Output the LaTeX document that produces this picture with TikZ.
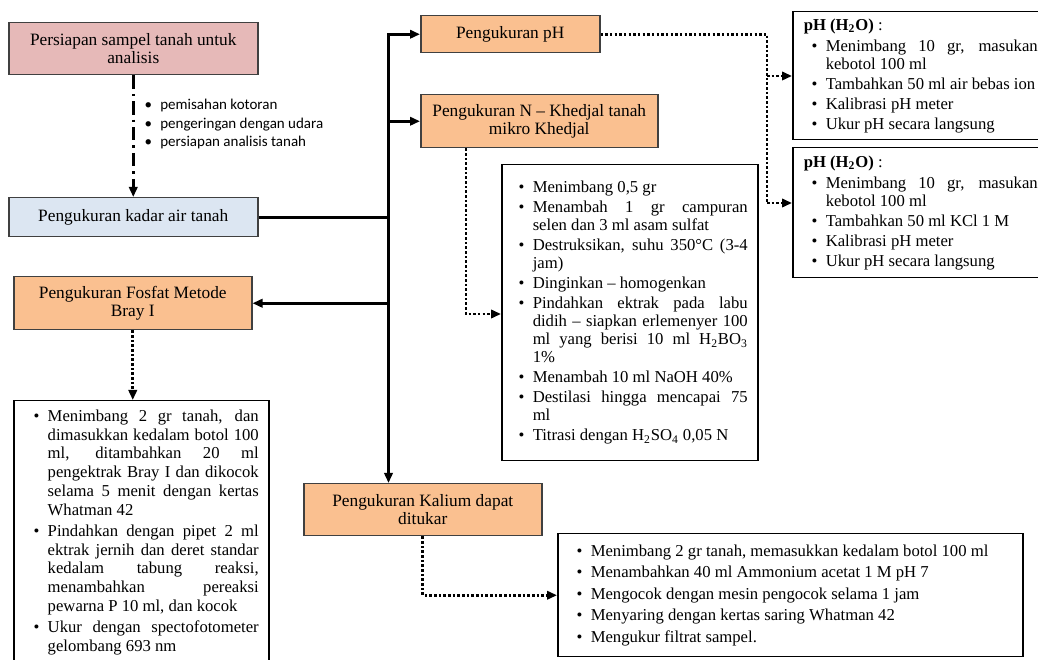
\documentclass[tikz,border=0pt]{standalone}
\usepackage{fontspec}
\setmainfont{Liberation Serif}
\newfontfamily\calibrifont{Carlito}
\usepackage{enumitem}
\usetikzlibrary{arrows.meta,positioning}

\newdimen\pxu \pxu=0.6pt
\hyphenpenalty=10000
\exhyphenpenalty=10000

\definecolor{prepred}{HTML}{E6B9B8}
\definecolor{waterblue}{HTML}{DCE6F2}
\definecolor{measureorange}{HTML}{FAC090}
\definecolor{boxline}{HTML}{404040}

\setlist[itemize]{label=\textbullet,topsep=0pt,partopsep=0pt,parsep=0pt,itemsep=1.2pt,labelsep=5pt}

\tikzset{
        stepbox/.style={
            draw=boxline, line width=0.9pt, anchor=north west, inner sep=0pt,
            align=center, font=\fontsize{10.4}{11}\selectfont
        },
        listbox/.style={
            draw=black, line width=0.9pt, anchor=north west, inner ysep=0pt,
            inner xsep=10\pxu, font=\fontsize{10}{10.8}\selectfont
        },
        mainline/.style={line width=1.6pt},
        dotline/.style={line width=1.6pt, dash pattern=on 1.5pt off 1.3pt},
        dashdot/.style={line width=1.6pt, dash pattern=on 8pt off 3pt on 1.5pt off 3pt},
    }

\begin{document}
\begin{tikzpicture}[x=0.6pt,y=-0.6pt,>={Triangle[length=6pt,width=5pt]}]
    \useasboundingbox (0,0) rectangle (1038,660);

    %step boxes
    \node[stepbox,fill=prepred,minimum width=249\pxu,minimum height=52\pxu] (prep) at (8,22) {Persiapan sampel tanah untuk\\analisis};
    \node[stepbox,fill=waterblue,minimum width=249\pxu,minimum height=39\pxu] (kadar) at (8,197) {Pengukuran kadar air tanah};
    \node[stepbox,fill=measureorange,minimum width=238\pxu,minimum height=53\pxu] (fosfat) at (13,276) {Pengukuran Fosfat Metode\\Bray I};
    \node[stepbox,fill=measureorange,minimum width=179\pxu,minimum height=37\pxu] (ph) at (420,15) {Pengukuran pH};
    \node[stepbox,fill=measureorange,minimum width=237\pxu,minimum height=53\pxu] (nk) at (420,94) {Pengukuran N -- Khedjal tanah\\mikro Khedjal};
    \node[stepbox,fill=measureorange,minimum width=238\pxu,minimum height=52\pxu] (kalium) at (303,483) {Pengukuran Kalium dapat\\ditukar};

    %preparation notes
    \node[anchor=north west,inner sep=0pt,font=\calibrifont\fontsize{9}{11}\selectfont] (prepnotes) at (140,99) {\begin{minipage}{190\pxu}
        \begin{itemize}[leftmargin=20\pxu,itemsep=0pt]
            \item pemisahan kotoran
            \item pengeringan dengan udara
            \item persiapan analisis tanah
        \end{itemize}\end{minipage}};

    %list boxes
    \node[listbox,inner xsep=11\pxu,minimum height=128\pxu] (phair) at (792,11) {\begin{minipage}{234\pxu}
        \textbf{pH (H\textsubscript{2}O)} :
        \begin{itemize}[leftmargin=22\pxu,topsep=2pt]
            \item Menimbang 10 gr, masukan\linebreak kebotol 100 ml
            \item Tambahkan 50 ml air bebas ion
            \item Kalibrasi pH meter
            \item Ukur pH secara langsung
        \end{itemize}\end{minipage}};
    \node[listbox,inner xsep=11\pxu,minimum height=130\pxu] (phkcl) at (792,147) {\begin{minipage}{234\pxu}
        \textbf{pH (H\textsubscript{2}O)} :
        \begin{itemize}[leftmargin=22\pxu,topsep=2pt]
            \item Menimbang 10 gr, masukan\linebreak kebotol 100 ml
            \item Tambahkan 50 ml KCl 1 M
            \item Kalibrasi pH meter
            \item Ukur pH secara langsung
        \end{itemize}\end{minipage}};
    \node[listbox,minimum height=296\pxu] (ntext) at (501,164) {\begin{minipage}{236\pxu}
        \begin{itemize}[leftmargin=21\pxu]
            \item Menimbang 0,5 gr
            \item Menambah 1 gr campuran\linebreak selen dan 3 ml asam sulfat
            \item Destruksikan, suhu 350°C (3-4\linebreak jam)
            \item Dinginkan -- homogenkan
            \item Pindahkan ektrak pada labu\linebreak didih -- siapkan erlemenyer 100\linebreak ml yang berisi 10 ml H\textsubscript{2}BO\textsubscript{3}\linebreak 1\%
            \item Menambah 10 ml NaOH 40\%
            \item Destilasi hingga mencapai 75\linebreak ml
            \item Titrasi dengan H\textsubscript{2}SO\textsubscript{4} 0,05 N
        \end{itemize}\end{minipage}};
    \node[listbox,inner ysep=9\pxu,font=\fontsize{10}{11.3}\selectfont] (ptext) at (13,400) {\begin{minipage}[c][280\pxu][t]{235\pxu}
        \begin{itemize}[leftmargin=24\pxu]
            \item Menimbang 2 gr tanah, dan\linebreak dimasukkan kedalam botol 100\linebreak ml, ditambahkan 20 ml\linebreak pengektrak Bray I dan dikocok\linebreak selama 5 menit dengan kertas\linebreak Whatman 42
            \item Pindahkan dengan pipet 2 ml\linebreak ektrak jernih dan deret standar\linebreak kedalam tabung reaksi,\linebreak menambahkan pereaksi\linebreak pewarna P 10 ml, dan kocok
            \item Ukur dengan spectofotometer\linebreak gelombang 693 nm
        \end{itemize}\end{minipage}};
    \node[listbox,minimum height=123\pxu] (ktext) at (557,533) {\begin{minipage}{445\pxu}\raggedright
        \begin{itemize}[leftmargin=23\pxu,itemsep=3.5\pxu]
            \item Menimbang 2 gr tanah, memasukkan kedalam botol 100 ml
            \item Menambahkan 40 ml Ammonium acetat 1 M pH 7
            \item Mengocok dengan mesin pengocok selama 1 jam
            \item Menyaring dengan kertas saring Whatman 42
            \item Mengukur filtrat sampel.
        \end{itemize}\end{minipage}};

    %main trunk
    \path (kadar.east) -- ++(130,0) coordinate (hub);
    \draw[dashdot,->] (prep.south) -- (kadar.north);
    \draw[mainline] (kadar.east) -- (hub);
    \draw[mainline,->] (hub) |- (ph.west);
    \draw[mainline,->] (hub) |- (nk.west);
    \draw[mainline,->] (hub) |- (fosfat.east);
    \draw[mainline,->] (hub) -- (hub |- kalium.north);

    %dotted links to the lists
    \coordinate (phmid) at (767,76);
    \coordinate (phlow) at (767,203);
    \draw[dotline] (ph.east) -| (phlow);
    \draw[dotline,->] (phmid) -- (phmid -| phair.west);
    \draw[dotline,->] (phlow) -- (phlow -| phkcl.west);
    \coordinate (nturn) at (466,314);
    \draw[dotline,->] (nturn |- nk.south) -- (nturn) -- (nturn -| ntext.west);
    \draw[dotline,->] (fosfat.south) -- (fosfat.south |- ptext.north);
    \draw[dotline,->] (kalium.south) |- (ktext.west);

\end{tikzpicture}
\end{document}
